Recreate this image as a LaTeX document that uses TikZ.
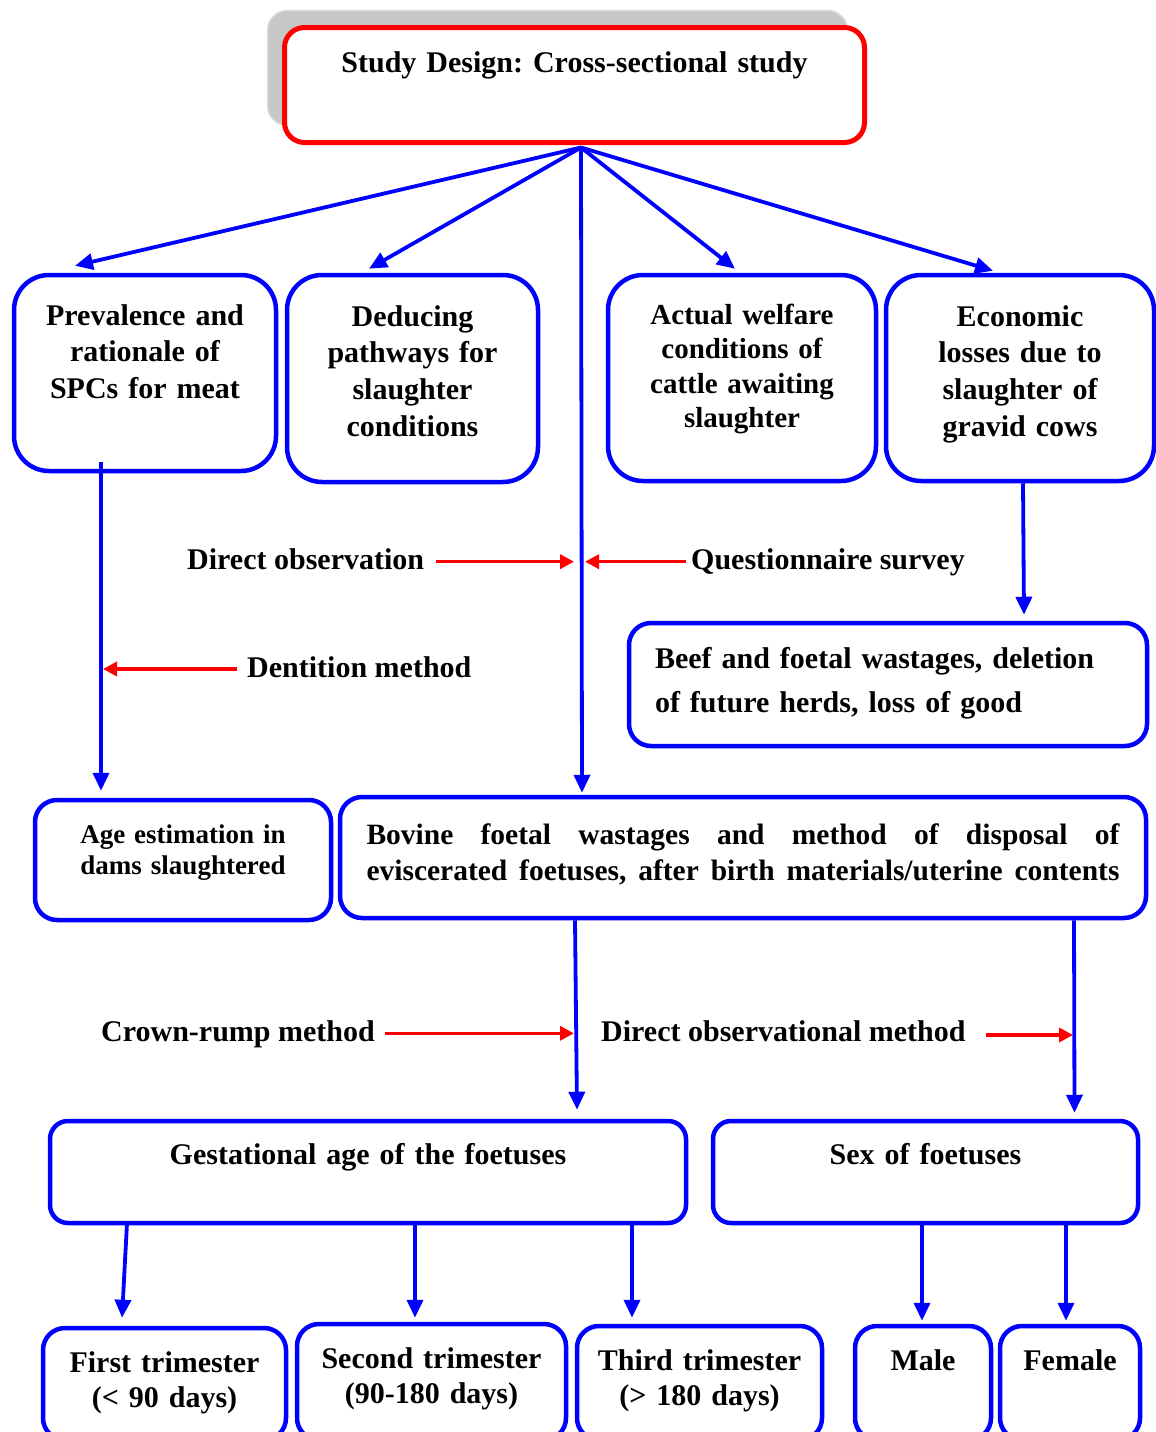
\documentclass[tikz,border=0pt]{standalone}
\usepackage{fontspec}
\setmainfont{Liberation Serif}
\frenchspacing
\usepackage{tikz}
\usetikzlibrary{positioning}
\usetikzlibrary{shapes,arrows,calc,arrows.meta,shadows}

\begin{document}
\begin{tikzpicture}[x=1pt, y=-1pt, font=\fontsize{30}{36.7}\selectfont\bfseries,
    box/.style={draw=blue, line width=4.5pt, rounded corners=22pt, fill=white, align=center, inner sep=0pt},
    arr/.style={draw=blue, line width=3.8pt, -{Triangle[length=18pt,width=16pt]}},
    redarr/.style={draw=red, line width=3.5pt, -{Triangle[length=14pt,width=14pt]}},
    lbl/.style={inner sep=0pt, anchor=base west}]
    \useasboundingbox (0,0) rectangle (1156,1432);
    \clip (0,0) rectangle (1156,1432);
    % Nodes
    \node [box, draw=red, line width=5pt, rounded corners=20pt, text width=580pt, text height=45pt, text depth=70pt,
      drop shadow={shadow xshift=-17pt, shadow yshift=17pt, fill=black!22, draw=black!14, line width=1.5pt, opacity=1}]
      (design) at (574.5,85) {Study Design: Cross-sectional study};
    \coordinate (hub) at ($(design.south)+(6.5,2.5)$);

    \node [box, rounded corners=35pt, text width=262pt, text height=50pt, text depth=146pt] (prev) at (145,373) {Prevalence and\\ rationale of\\ SPCs for meat};
    \node [box, rounded corners=35pt, text width=251pt, text height=51pt, text depth=156pt] (deduce) at (412.5,378.5) {Deducing\\ pathways for\\ slaughter\\ conditions};
    \node [box, rounded corners=35pt, text width=268pt, text height=49pt, text depth=157pt, font=\fontsize{29}{34.6}\selectfont\bfseries] (welfare) at (742,378) {Actual welfare\\ conditions of\\ cattle awaiting\\ slaughter};
    \node [box, rounded corners=35pt, text width=268pt, text height=51pt, text depth=155pt] (econ) at (1020,378) {Economic\\ losses due to\\ slaughter of\\ gravid cows};

    \node [box, align=left, inner xsep=26pt, text width=466pt, text height=45pt, text depth=78pt, font=\fontsize{30}{44.4}\selectfont\bfseries] (beef) at (888,684.5) {Beef and foetal wastages, deletion\\ of future herds, loss of good};

    \node [box, text width=296pt, text height=43pt, text depth=77pt, font=\fontsize{27}{31.7}\selectfont\bfseries] (age) at (183,860) {Age estimation in\\ dams slaughtered};
    \node [box, inner xsep=26.5pt, text width=753pt, text height=47pt, text depth=74pt, font=\fontsize{29.5}{36}\selectfont\bfseries] (bovine) at (743,857.5)
      {\hbox to 753pt{Bovine\hfill foetal\hfill wastages\hfill and\hfill method\hfill of\hfill disposal\hfill of}\\
       \hbox to 753pt{eviscerated\hfill foetuses,\hfill after\hfill birth\hfill materials/uterine\hfill contents}};

    \node [box, rounded corners=18pt, text width=636pt, text height=43pt, text depth=59pt] (gest) at (368,1172) {Gestational age of the foetuses};
    \node [box, rounded corners=18pt, text width=425pt, text height=43pt, text depth=59pt] (sex) at (925.5,1172) {Sex of foetuses};

    \node [box, text width=243pt, text height=44pt, text depth=68pt, font=\fontsize{30}{35}\selectfont\bfseries] (first) at (164.5,1384) {First trimester\\ (< 90 days)};
    \node [box, text width=269pt, text height=44pt, text depth=72pt, font=\fontsize{30}{35}\selectfont\bfseries] (second) at (431.5,1382) {Second trimester\\ (90-180 days)};
    \node [box, text width=245pt, text height=44pt, text depth=70pt, font=\fontsize{30}{35}\selectfont\bfseries] (third) at (699.5,1383) {Third trimester\\ (> 180 days)};
    \node [box, text width=136pt, text height=44pt, text depth=70pt] (male) at (923,1383) {Male};
    \node [box, text width=140pt, text height=44pt, text depth=70pt] (female) at (1070,1383) {Female};

    % method labels
    \node [lbl] (dirobs) at (187,569) {Direct observation};
    \node [lbl] (quest) at (691,569) {Questionnaire survey};
    \node [lbl] (dent) at (247,677) {Dentition method};
    \node [lbl] (crown) at (101,1041.7) {Crown-rump method};
    \node [lbl] (dirmeth) at (601,1041.7) {Direct observational method};

    % Connectors
    \draw [arr] (hub) -- ($(prev.north)+(-70,-7)$);
    \draw [arr] (hub) -- ($(deduce.north)+(-43.5,-4)$);
    \draw [arr] (hub) -- ($(welfare.north)+(-7,-4)$);
    \draw [arr] (hub) -- ($(econ.north)+(-27,-2)$);
    \draw [arr] (hub) -- ($(bovine.north)+(-161,-2)$);
    \draw [arr] ($(prev.south)+(-44,-11)$) -- ($(age.north)+(-82,-7)$);
    \draw [arr] ($(econ.south)+(3,0)$) -- ($(beef.north)+(136,-6)$);
    \draw [arr] ($(bovine.south)+(-168,0)$) -- ($(gest.north)+(209,-9)$);
    \draw [arr] ($(bovine.south)+(331,0)$) -- ($(sex.north)+(149,-6)$);
    \draw [arr] ($(gest.south)+(-241,-2)$) -- ($(first.north)+(-42.5,-8)$);
    \draw [arr] ($(gest.south)+(47,-2)$) -- ($(second.north)+(-16.5,-4)$);
    \draw [arr] ($(gest.south)+(264,-2)$) -- ($(third.north)+(-67.5,-6)$);
    \draw [arr] ($(sex.south)+(-3.5,0)$) -- ($(male.north)+(-1,-3)$);
    \draw [arr] ($(sex.south)+(140.5,0)$) -- ($(female.north)+(-4,-3)$);

    \draw [redarr] ($(dirobs.base east)+(12,-7.3)$) -- ($(hub |- dirobs.base)+(-7,-7.3)$);
    \draw [redarr] ($(quest.base west)+(-5,-7.3)$) -- ($(hub |- quest.base)+(4,-7.3)$);
    \draw [redarr] ($(dent.base west)+(-10,-8)$) -- ($(prev.south |- dent.base)+(-42,-8)$);
    \draw [redarr] ($(crown.base east)+(10,-8.4)$) -- ($(bovine.south |- crown.base)+(-169,-8.4)$);
    \draw [redarr] ($(dirmeth.base east)+(20,-6.7)$) -- ($(bovine.south |- dirmeth.base)+(330,-6.7)$);
  \end{tikzpicture}
\end{document}
